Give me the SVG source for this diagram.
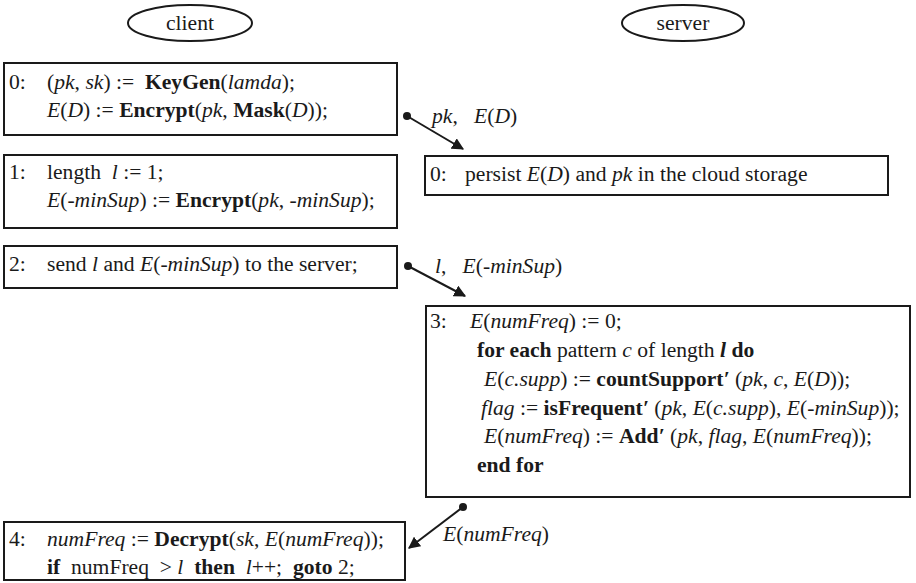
<svg xmlns="http://www.w3.org/2000/svg" width="916" height="583" viewBox="0 0 916 583">
  <defs>
    <style>
      .box { fill: #fff; stroke: #1a1a1a; stroke-width: 2; }
      .role { fill: #fff; stroke: #1a1a1a; stroke-width: 2; }
      .t { font-family: "Liberation Serif", "Times New Roman", serif; font-size: 21.6px; fill: #1a1a1a; white-space: pre; }
      .i { font-style: italic; }
      .b { font-weight: bold; }
      .link { stroke: #1a1a1a; stroke-width: 2; fill: none; marker-end: url(#head); }
      .dot { fill: #1a1a1a; }
    </style>
    <marker id="head" viewBox="0 0 10 10" refX="9" refY="5" markerWidth="6" markerHeight="6" orient="auto" markerUnits="strokeWidth">
      <path d="M0,0 L10,5 L0,10 Z" fill="#1a1a1a"/>
    </marker>
  </defs>
  <rect width="916" height="583" fill="#fff"/>

  <g xml:space="preserve">

  <!-- role headers -->
  <g id="client-header">
    <ellipse class="role" cx="190" cy="23" rx="62" ry="18"/>
    <text class="t" x="190" y="30" text-anchor="middle">client</text>
  </g>
  <g id="server-header">
    <ellipse class="role" cx="683" cy="23" rx="61" ry="18"/>
    <text class="t" x="683" y="30" text-anchor="middle">server</text>
  </g>

  <!-- client step 0 -->
  <g id="client-0">
    <rect class="box" x="4" y="63" width="393" height="72"/>
    <text class="t" x="9" y="89">0:</text>
    <text class="t" x="47" y="89">(<tspan class="i">pk</tspan>, <tspan class="i">sk</tspan>) :=  <tspan class="b">KeyGen</tspan>(<tspan class="i">lamda</tspan>);</text>
    <text class="t" x="47" y="117"><tspan class="i">E</tspan>(<tspan class="i">D</tspan>) := <tspan class="b">Encrypt</tspan>(<tspan class="i">pk</tspan>, <tspan class="b">Mask</tspan>(<tspan class="i">D</tspan>));</text>
  </g>

  <!-- client step 1 -->
  <g id="client-1">
    <rect class="box" x="4" y="155" width="393" height="73"/>
    <text class="t" x="9" y="179">1:</text>
    <text class="t" x="47" y="179">length  <tspan class="i">l</tspan> := 1;</text>
    <text class="t" x="47" y="207"><tspan class="i">E</tspan>(<tspan class="i">-minSup</tspan>) := <tspan class="b">Encrypt</tspan>(<tspan class="i">pk</tspan>, <tspan class="i">-minSup</tspan>);</text>
  </g>

  <!-- client step 2 -->
  <g id="client-2">
    <rect class="box" x="4" y="246" width="393" height="42"/>
    <text class="t" x="9" y="271">2:</text>
    <text class="t" x="47" y="271">send <tspan class="i">l</tspan> and <tspan class="i">E</tspan>(<tspan class="i">-minSup</tspan>) to the server;</text>
  </g>

  <!-- server step 0 -->
  <g id="server-0">
    <rect class="box" x="425" y="156" width="463" height="39"/>
    <text class="t" x="430" y="181">0:</text>
    <text class="t" x="465" y="181">persist <tspan class="i">E</tspan>(<tspan class="i">D</tspan>) and <tspan class="i">pk</tspan> in the cloud storage</text>
  </g>

  <!-- server step 3 -->
  <g id="server-3">
    <rect class="box" x="426" y="306" width="484" height="191"/>
    <text class="t" x="430" y="328">3:</text>
    <text class="t" x="470" y="328"><tspan class="i">E</tspan>(<tspan class="i">numFreq</tspan>) := 0;</text>
    <text class="t" x="477" y="357"><tspan class="b">for each</tspan> pattern <tspan class="i">c</tspan> of length <tspan class="i b">l</tspan> <tspan class="b">do</tspan></text>
    <text class="t" x="484" y="386"><tspan class="i">E</tspan>(<tspan class="i">c.supp</tspan>) := <tspan class="b">countSupport</tspan><tspan class="b i">′</tspan> (<tspan class="i">pk</tspan>, <tspan class="i">c</tspan>, <tspan class="i">E</tspan>(<tspan class="i">D</tspan>));</text>
    <text class="t" x="481" y="415"><tspan class="i">flag</tspan> := <tspan class="b">isFrequent</tspan><tspan class="b i">′</tspan> (<tspan class="i">pk</tspan>, <tspan class="i">E</tspan>(<tspan class="i">c.supp</tspan>), <tspan class="i">E</tspan>(<tspan class="i">-minSup</tspan>));</text>
    <text class="t" x="484" y="443"><tspan class="i">E</tspan>(<tspan class="i">numFreq</tspan>) := <tspan class="b">Add</tspan><tspan class="b i">′</tspan> (<tspan class="i">pk</tspan>, <tspan class="i">flag</tspan>, <tspan class="i">E</tspan>(<tspan class="i">numFreq</tspan>));</text>
    <text class="t b" x="477" y="472">end for</text>
  </g>

  <!-- client step 4 -->
  <g id="client-4">
    <rect class="box" x="4" y="522" width="401" height="58"/>
    <text class="t" x="9" y="546">4:</text>
    <text class="t" x="47" y="546"><tspan class="i">numFreq</tspan> := <tspan class="b">Decrypt</tspan>(<tspan class="i">sk</tspan>, <tspan class="i">E</tspan>(<tspan class="i">numFreq</tspan>));</text>
    <text class="t" x="47" y="574"><tspan class="b">if</tspan>  numFreq  &gt; <tspan class="i">l</tspan>  <tspan class="b">then</tspan>  <tspan class="i">l</tspan>++;  <tspan class="b">goto</tspan> 2;</text>
  </g>

  <!-- message connectors -->
  <g id="connectors">
    <circle class="dot" cx="407" cy="116" r="4"/>
    <line class="link" x1="407" y1="116" x2="463" y2="149"/>
    <text class="t" x="432" y="123"><tspan class="i">pk</tspan>,   <tspan class="i">E</tspan>(<tspan class="i">D</tspan>)</text>

    <circle class="dot" cx="408" cy="266" r="4"/>
    <line class="link" x1="408" y1="266" x2="465" y2="296"/>
    <text class="t" x="435" y="273"><tspan class="i">l</tspan>,   <tspan class="i">E</tspan>(<tspan class="i">-minSup</tspan>)</text>

    <circle class="dot" cx="463" cy="507" r="4"/>
    <line class="link" x1="463" y1="507" x2="409" y2="548"/>
    <text class="t" x="443" y="541"><tspan class="i">E</tspan>(<tspan class="i">numFreq</tspan>)</text>
  </g>
  </g>
</svg>
